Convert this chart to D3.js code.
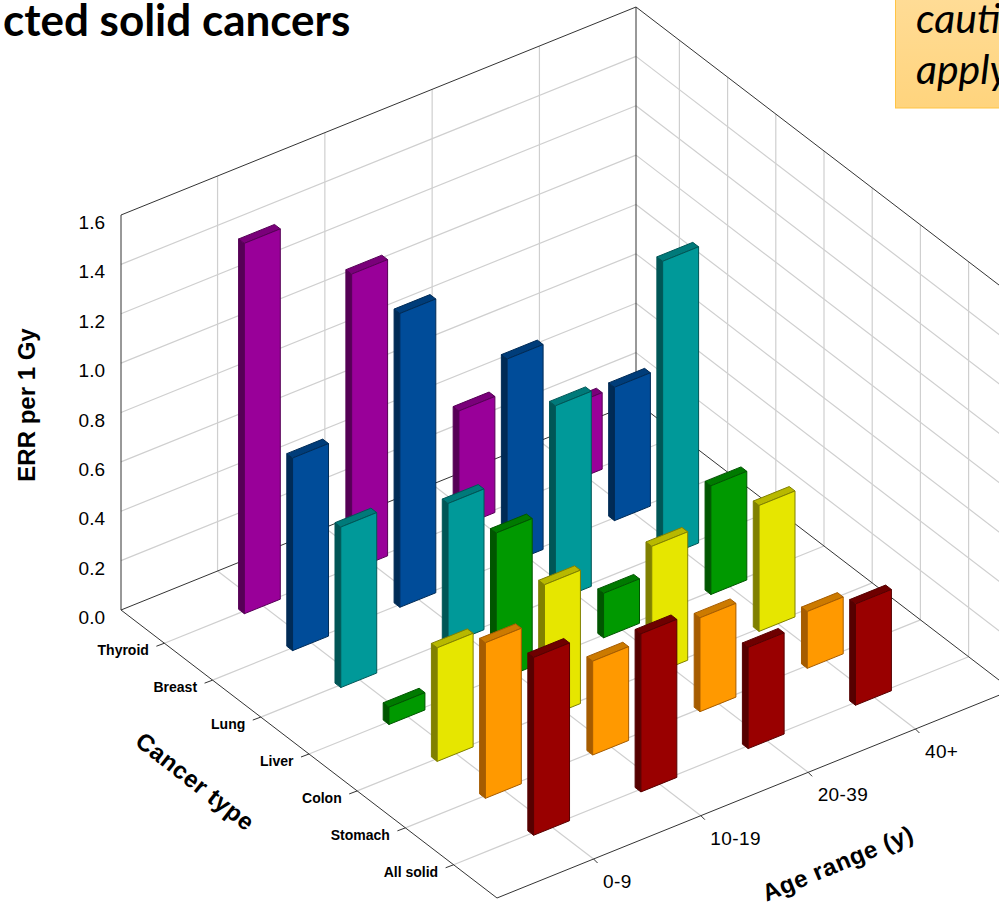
<!DOCTYPE html>
<html>
<head>
<meta charset="utf-8">
<script src="https://cdn.jsdelivr.net/npm/d3@7/dist/d3.min.js"></script>
<style>
  html, body { margin: 0; padding: 0; background: #fff; overflow: hidden; }
  svg { display: block; }
</style>
</head>
<body>
<svg id="chart" width="999" height="904"></svg>
<script>
// Excess relative risk per 1 Gy by cancer type and age at exposure
const cancerTypes = ["Thyroid", "Breast", "Lung", "Liver", "Colon", "Stomach", "All solid"];
const ageRanges = ["0-9", "10-19", "20-39", "40+"];
const errTicks = [0, 0.2, 0.4, 0.6, 0.8, 1.0, 1.2, 1.4, 1.6];

const thyroidErr = [1.5, 1.2, 0.47, 0.31];
const breastErr = [0.78, 1.19, 0.83, 0.54];
const lungErr = [0.65, 0.57, 0.79, 1.2];
const liverErr = [0.07, 0.6, 0.18, 0.44];
const colonErr = [0.46, 0.54, 0.52, 0.51];
const stomachErr = [0.63, 0.38, 0.38, 0.23];
const allSolidErr = [0.72, 0.64, 0.41, 0.41];

const errByCancer = [thyroidErr, breastErr, lungErr, liverErr, colonErr, stomachErr, allSolidErr];

// front, side, top and outline shades for each cancer type
const frontColors = ["#990099", "#004c99", "#009999", "#009900", "#e6e600", "#ff9900", "#990000"];
const sideColors = ["#560056", "#002b56", "#005656", "#005600", "#808000", "#a65c00", "#560000"];
const topColors = ["#7a007a", "#003d7a", "#007a7a", "#007a00", "#b8b800", "#cc7a00", "#6e0000"];

const svg = d3.select("#chart");

// Oblique box: each data axis advances along its own screen direction
const origin = [121, 610];
const cancerVector = [376, 288];
const ageVector = [515, -208];

const cancerScale = d3.scalePoint().domain(cancerTypes).range([0, 1]).padding(0.9);
const ageScale = d3.scalePoint().domain(ageRanges).range([0, 1]).padding(0.9);
const errScale = d3.scaleLinear().domain([0, 1.6]).range([0, 395]);

const project = (c, a, v) => [
  origin[0] + c * cancerVector[0] + a * ageVector[0],
  origin[1] + c * cancerVector[1] + a * ageVector[1] - errScale(v)
];
const pathFrom = d3.line();
const segment = (layer, p, q, color, width) => layer.append("line")
  .attr("x1", p[0]).attr("y1", p[1]).attr("x2", q[0]).attr("y2", q[1])
  .attr("stroke", color).attr("stroke-width", width);

// Wall and floor grid
const grid = svg.append("g").attr("class", "grid");
const gridColor = "#cfcfcf";
const maxErr = errTicks[errTicks.length - 1];

errTicks.slice(1, -1).forEach(v => {
  segment(grid, project(0, 0, v), project(0, 1, v), gridColor, 1.2);
  segment(grid, project(0, 1, v), project(1, 1, v), gridColor, 1.2);
});
ageRanges.forEach(a => {
  const u = ageScale(a);
  segment(grid, project(0, u, 0), project(0, u, maxErr), gridColor, 1.2);
  segment(grid, project(0, u, 0), project(1, u, 0), gridColor, 1.2);
});
cancerTypes.forEach(c => {
  const u = cancerScale(c);
  segment(grid, project(u, 1, 0), project(u, 1, maxErr), gridColor, 1.2);
  segment(grid, project(u, 0, 0), project(u, 1, 0), gridColor, 1.2);
});

// Box outline
const frame = svg.append("g").attr("class", "frame");
const edgeColor = "#333";
[
  [[0, 0, 0], [0, 0, maxErr]],
  [[0, 1, 0], [0, 1, maxErr]],
  [[0, 0, maxErr], [0, 1, maxErr]],
  [[0, 1, maxErr], [1, 1, maxErr]],
  [[0, 0, 0], [0, 1, 0]],
  [[0, 1, 0], [1, 1, 0]],
  [[0, 0, 0], [1, 0, 0]],
  [[1, 0, 0], [1, 1, 0]]
].forEach(e => segment(frame, project(...e[0]), project(...e[1]), edgeColor, 1));

// Tick marks and tick labels
const labels = svg.append("g").attr("class", "labels");
const tickFont = "'Liberation Sans', Arial, sans-serif";

errTicks.forEach(v => {
  const p = project(0, 0, v);
  labels.append("text")
    .attr("x", 105).attr("y", p[1] + 14)
    .attr("text-anchor", "end")
    .attr("font-family", tickFont).attr("font-size", 19).attr("fill", "#000")
    .text(d3.format(".1f")(v));
});

cancerTypes.forEach(c => {
  const u = cancerScale(c);
  const p = project(u, 0, 0);
  segment(labels, p, [p[0] - 8, p[1] + 3], edgeColor, 1);
  labels.append("text")
    .attr("x", p[0] - 15.5).attr("y", p[1] + 12)
    .attr("text-anchor", "end")
    .attr("font-family", tickFont).attr("font-size", 14).attr("font-weight", "bold").attr("fill", "#000")
    .text(c);
});

ageRanges.forEach(a => {
  const u = ageScale(a);
  const p = project(1, u, 0);
  segment(labels, p, [p[0] + 4, p[1] + 4], edgeColor, 1);
  labels.append("text")
    .attr("x", p[0] + 9.5).attr("y", p[1] + 29)
    .attr("font-family", tickFont).attr("font-size", 19)
    .attr("letter-spacing", 0.4).attr("fill", "#000")
    .text(a);
});

// Axis titles
const axisTitle = (x, y, angle, size, text, spacing) => svg.append("text")
  .attr("transform", `translate(${x},${y}) rotate(${angle})`)
  .attr("text-anchor", "middle")
  .attr("font-family", tickFont).attr("font-weight", "bold")
  .attr("font-size", size).attr("fill", "#000")
  .attr("letter-spacing", spacing)
  .text(text);

axisTitle(35, 405, -90, 24, "ERR per 1 Gy", 0);
axisTitle(190, 788, 38, 24, "Cancer type", 0.5);
axisTitle(841, 871, -22.5, 24, "Age range (y)", 0.6);

// Bars, painted from the back row to the front row
const barWidth = 0.335 * ageScale.step();
const barDepth = 0.12 * cancerScale.step();
const bars = svg.append("g").attr("class", "bars").attr("transform", "translate(-1.5,0)");

cancerTypes.forEach((cancer, i) => {
  const c = cancerScale(cancer);
  const row = bars.append("g").attr("class", "row");
  const cells = ageRanges.map((age, j) => ({ a: ageScale(age), v: errByCancer[i][j] }));
  const faces = row.selectAll("g").data(cells).join("g");
  const cf = c + barDepth / 2, cb = c - barDepth / 2;
  const left = d => d.a - barWidth / 2, right = d => d.a + barWidth / 2;

  const face = (fill, corners) => faces.append("path")
    .attr("d", d => pathFrom(corners(d)) + "Z")
    .attr("fill", fill)
    .attr("stroke", sideColors[i])
    .attr("stroke-width", 1)
    .attr("stroke-linejoin", "round");

  face(sideColors[i], d => [
    project(cb, left(d), 0), project(cf, left(d), 0),
    project(cf, left(d), d.v), project(cb, left(d), d.v)
  ]);
  face(topColors[i], d => [
    project(cf, left(d), d.v), project(cf, right(d), d.v),
    project(cb, right(d), d.v), project(cb, left(d), d.v)
  ]);
  face(frontColors[i], d => [
    project(cf, left(d), 0), project(cf, right(d), 0),
    project(cf, right(d), d.v), project(cf, left(d), d.v)
  ]);
});

// Slide heading and callout
const slideFont = "Lato, 'Open Sans', sans-serif";
svg.append("text")
  .attr("x", 3).attr("y", 36)
  .attr("font-family", slideFont).attr("font-weight", "bold")
  .attr("font-size", 44).attr("fill", "#000")
  .text("cted solid cancers");

const defs = svg.append("defs");
const fade = defs.append("linearGradient").attr("id", "calloutFill").attr("x1", 0).attr("y1", 0).attr("x2", 0).attr("y2", 1);
fade.append("stop").attr("offset", 0).attr("stop-color", "#ffdc96");
fade.append("stop").attr("offset", 1).attr("stop-color", "#ffd47d");

svg.append("rect")
  .attr("x", 895.5).attr("y", -2).attr("width", 110).attr("height", 110)
  .attr("fill", "url(#calloutFill)")
  .attr("stroke", "#ffc445").attr("stroke-width", 1);

["cauti", "apply"].forEach((line, k) => {
  svg.append("text")
    .attr("x", 916).attr("y", 33 + k * 51)
    .attr("font-family", slideFont).attr("font-style", "italic")
    .attr("font-size", 41).attr("fill", "#000")
    .text(line);
});
</script>
</body>
</html>
